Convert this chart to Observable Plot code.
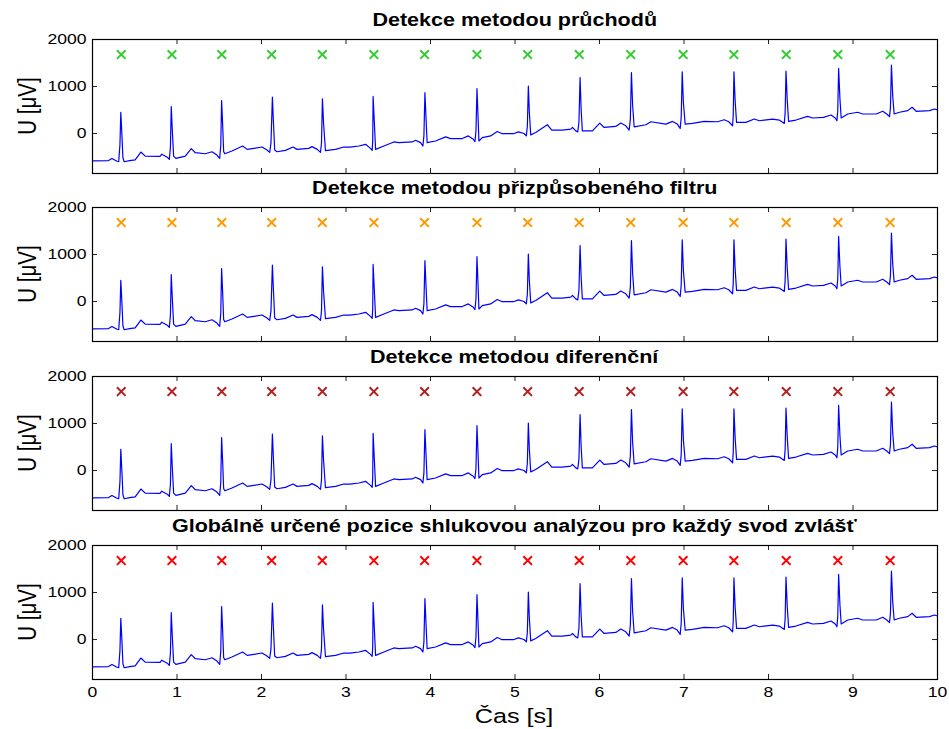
<!DOCTYPE html>
<html>
<head>
<meta charset="utf-8">
<script src="https://cdn.jsdelivr.net/npm/d3@7"></script>
<script src="https://cdn.jsdelivr.net/npm/@observablehq/plot@0.6"></script>
<style>
  html, body { margin: 0; padding: 0; background: #fff; }
  #chart { position: relative; width: 949px; height: 729px; overflow: hidden; font-family: "Liberation Sans", Arial, sans-serif; color: #000; }
  #chart svg { position: absolute; left: 0; overflow: visible; }
  .title { position: absolute; left: 92px; width: 845px; text-align: center; font-weight: bold; font-size: 17.5px; line-height: 20px; }
  .title span { display: inline-block; transform: scaleX(1.23); }
  .ylab { position: absolute; left: 27px; font-size: 20.5px; line-height: 22px; white-space: nowrap; transform: translate(-50%, -50%) rotate(-90deg) scale(1, 1.23); }
  .xlab { position: absolute; left: 514px; font-size: 20.5px; line-height: 22px; white-space: nowrap; transform: translate(-50%, -50%) scaleX(1.23); }
</style>
</head>
<body>
<div id="chart"></div>
<script>
// ---- data ----
const titles = [
  "Detekce metodou průchodů",
  "Detekce metodou přizpůsobeného filtru",
  "Detekce metodou diferenční",
  "Globálně určené pozice shlukovou analýzou pro každý svod zvlášť"
];
const markerColors = ["#33cc33", "#ff9900", "#b02020", "#ff0000"];

// detected QRS positions [s] for each method
const detPruchody = [0.34, 0.94, 1.53, 2.12, 2.72, 3.33, 3.93, 4.55, 5.15, 5.76, 6.37, 6.99, 7.59, 8.21, 8.82, 9.44];
const detFiltr    = [0.34, 0.94, 1.53, 2.12, 2.72, 3.33, 3.93, 4.55, 5.15, 5.76, 6.37, 6.99, 7.59, 8.21, 8.82, 9.44];
const detDiferen  = [0.34, 0.94, 1.53, 2.12, 2.72, 3.33, 3.93, 4.55, 5.15, 5.76, 6.37, 6.99, 7.59, 8.21, 8.82, 9.44];
const detGlobal   = [0.34, 0.94, 1.53, 2.12, 2.72, 3.33, 3.93, 4.55, 5.15, 5.76, 6.37, 6.99, 7.59, 8.21, 8.82, 9.44];
const markerLevel = [1680, 1680, 1680, 1680, 1680, 1680, 1680, 1680, 1680, 1680, 1680, 1680, 1680, 1680, 1680, 1680];

// ECG signal: time [s]
const ecgT = [
  0.00, 0.19, 0.23, 0.29, 0.31, 0.325, 0.335, 0.35, 0.36, 0.375, 0.44, 0.505, 0.572, 0.624, 0.80, 0.82, 0.89, 0.909, 0.922, 0.932,
  0.945, 0.96, 0.987, 1.098, 1.169, 1.217, 1.335, 1.414, 1.473, 1.505, 1.518, 1.528, 1.54, 1.552, 1.565, 1.65, 1.777, 1.83, 1.91, 2.006,
  2.065, 2.097, 2.112, 2.129, 2.14, 2.156, 2.184, 2.283, 2.374, 2.42, 2.559, 2.598, 2.66, 2.698, 2.71, 2.721, 2.735, 2.757, 2.876, 2.974,
  3.05, 3.152, 3.231, 3.29, 3.31, 3.316, 3.321, 3.335, 3.35, 3.448, 3.566, 3.626, 3.784, 3.824, 3.882, 3.91, 3.922, 3.934, 3.948, 3.96,
  4.06, 4.179, 4.238, 4.376, 4.447, 4.506, 4.526, 4.538, 4.55, 4.562, 4.573, 4.613, 4.712, 4.79, 4.842, 4.988, 5.04, 5.107, 5.134, 5.146,
  5.158, 5.17, 5.186, 5.245, 5.383, 5.435, 5.56, 5.66, 5.68, 5.719, 5.743, 5.757, 5.77, 5.783, 5.797, 5.916, 6.003, 6.055, 6.193, 6.252,
  6.311, 6.351, 6.365, 6.378, 6.392, 6.41, 6.549, 6.608, 6.786, 6.864, 6.92, 6.955, 6.967, 6.979, 6.993, 7.014, 7.1, 7.239, 7.397, 7.476,
  7.53, 7.575, 7.583, 7.591, 7.605, 7.622, 7.733, 7.832, 7.891, 8.05, 8.128, 8.187, 8.197, 8.207, 8.222, 8.238, 8.325, 8.463, 8.522, 8.65,
  8.74, 8.79, 8.81, 8.82, 8.83, 8.845, 8.86, 8.938, 9.056, 9.115, 9.274, 9.352, 9.40, 9.432, 9.443, 9.455, 9.47, 9.487, 9.55, 9.648,
  9.70, 9.748, 9.905, 9.964, 10.0
];
// ECG signal: voltage [µV]
const ecgU = [
  -580, -575, -530, -590, -600, -230, 450, -100, -516, -600, -575, -560, -394, -480, -485, -440, -510, -551, -300, 574,
  50, -480, -530, -480, -322, -408, -430, -387, -459, -530, -250, 703, 200, -380, -430, -372, -265, -337, -315, -287,
  -351, -401, -200, 775, 300, -350, -387, -358, -286, -337, -315, -279, -337, -401, -200, 740, 200, -365, -337, -286,
  -290, -265, -229, -315, -358, -150, 789, 250, -337, -265, -179, -193, -179, -143, -193, -265, -50, 868, 300, -193,
  -158, -71, -107, -107, -50, -121, -172, 50, 954, 400, -158, -86, -50, 43, 0, 0, 36, 0, -50, 150,
  1011, 450, -28, 22, 187, 72, 72, 93, 130, 57, 36, 250, 1191, 500, 57, 57, 223, 129, 151, 223,
  165, 72, 300, 1298, 600, 143, 187, 251, 201, 258, 201, 108, 350, 1312, 650, 201, 215, 258, 251, 294,
  251, 165, 400, 1312, 700, 237, 237, 308, 272, 308, 287, 215, 450, 1327, 700, 258, 287, 366, 330, 345,
  394, 330, 272, 500, 1384, 750, 330, 416, 452, 416, 416, 473, 416, 359, 550, 1456, 800, 416, 452, 487,
  559, 473, 487, 523, 500
];
const xTicks = [0, 1, 2, 3, 4, 5, 6, 7, 8, 9, 10];
const yTicks = [0, 1000, 2000];

// ---- build ----
const ecg = ecgT.map((t, i) => ({t, u: ecgU[i]}));
const detections = [detPruchody, detFiltr, detDiferen, detGlobal];

const chart = document.getElementById("chart");
const W = 949, ML = 92, MR = 12;
const boxH = 134, boxW = W - ML - MR;
const boxTops = [38.5, 207.3, 376.2, 545];
const tickLen = 5;

function addDiv(cls, text, top) {
  const d = document.createElement("div");
  d.className = cls;
  d.style.top = top + "px";
  if (cls === "title") {
    const s = document.createElement("span");
    s.textContent = text;
    d.appendChild(s);
  } else {
    d.textContent = text;
  }
  chart.appendChild(d);
  return d;
}

boxTops.forEach((top, i) => {
  const last = i === boxTops.length - 1;
  const mt = 4, mb = last ? 30 : 4;
  const marks = detections[i].map((x, j) => ({x, y: markerLevel[j]}));
  const plot = Plot.plot({
    width: W,
    height: boxH + mt + mb,
    marginLeft: ML, marginRight: MR, marginTop: mt, marginBottom: mb,
    x: {domain: [0, 10], axis: last ? "bottom" : null, ticks: xTicks, tickSize: 0, tickPadding: 7, label: null, tickFormat: d => String(d)},
    y: {domain: [-850, 2000], axis: "left", ticks: yTicks, tickSize: 0, tickPadding: 6, label: null, tickFormat: d => String(d)},
    style: {fontFamily: "'Liberation Sans', Arial, sans-serif", fontSize: "14.3px", color: "#000", background: "transparent"},
    marks: [
      Plot.line(ecg, {x: "t", y: "u", stroke: "#0000ff", strokeWidth: 1.2}),
      Plot.dot(marks, {x: "x", y: "y", symbol: "times", r: 4, stroke: markerColors[i], strokeWidth: 2}),
      // inward tick marks (MATLAB style) on all four sides
      Plot.tickX(xTicks, {x: d => d, insetTop: boxH - tickLen, stroke: "#222"}),
      Plot.tickX(xTicks, {x: d => d, insetBottom: boxH - tickLen, stroke: "#222"}),
      Plot.tickY(yTicks, {y: d => d, insetRight: boxW - tickLen, stroke: "#222"}),
      Plot.tickY(yTicks, {y: d => d, insetLeft: boxW - tickLen, stroke: "#222"}),
      Plot.frame({stroke: "#000", strokeWidth: 1.2})
    ]
  });
  plot.style.top = (top - mt) + "px";
  // horizontal stretch of tick label glyphs, like the reference
  d3.select(plot).selectAll('g[aria-label$="tick label"] text').each(function() {
    const tr = this.getAttribute("transform") || "";
    this.setAttribute("transform", tr + " scale(1.23,1)");
  });
  chart.appendChild(plot);
  addDiv("title", titles[i], top - 29);
  addDiv("ylab", "U [μV]", top + boxH / 2);
});
addDiv("xlab", "Čas [s]", 716);
</script>
</body>
</html>
